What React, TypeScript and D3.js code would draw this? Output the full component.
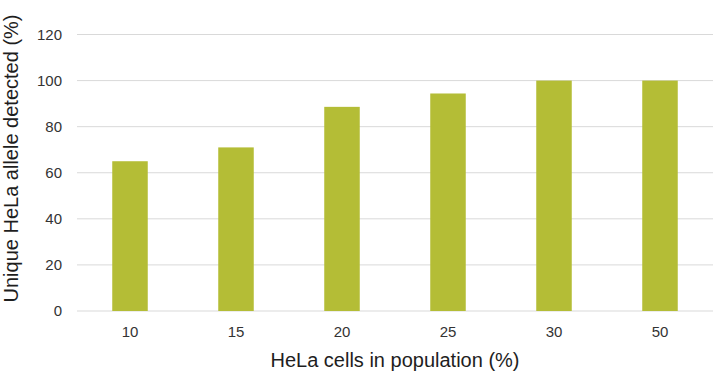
import React from "react";
import * as d3 from "d3";

const categories = ["10", "15", "20", "25", "30", "50"];
const values = [65, 71, 88.6, 94.4, 100, 100];
const yTicks = [0, 20, 40, 60, 80, 100, 120];
const xTitle = "HeLa cells in population (%)";
const yTitle = "Unique HeLa allele detected (%)";

export default function App() {
  const W = 719, H = 376;
  const left = 77, right = 713, top = 34.5, bottom = 311;
  const x = d3.scaleBand<string>().domain(categories).range([left, right]).paddingInner(0.665).paddingOuter(0.3325);
  const y = d3.scaleLinear().domain([0, 120]).range([bottom, top]);
  const font = "Liberation Sans, Arial, Helvetica, sans-serif";
  return (
    <svg width={W} height={H} style={{ position: "absolute", left: 0, top: 0, background: "#fff" }} fontFamily={font}>
      {yTicks.map((t) => (
        <g key={t}>
          <line x1={left} x2={right} y1={y(t)} y2={y(t)} stroke="#d9d9d9" strokeWidth={1} />
          <text x={62} y={y(t)} dy="0.35em" textAnchor="end" fontSize={15} fill="#333">{t}</text>
        </g>
      ))}
      {categories.map((c, i) => (
        <g key={c}>
          <rect x={x(c)} y={y(values[i])} width={x.bandwidth()} height={y(0) - y(values[i])} fill="#b4bd36" />
          <text x={(x(c) as number) + x.bandwidth() / 2} y={337} textAnchor="middle" fontSize={15} fill="#333">{c}</text>
        </g>
      ))}
      <text x={395} y={367} textAnchor="middle" fontSize={20} fill="#1e1e1e">{xTitle}</text>
      <text transform={`translate(18, 158.5) rotate(-90)`} textAnchor="middle" fontSize={20} fill="#1e1e1e">{yTitle}</text>
    </svg>
  );
}
